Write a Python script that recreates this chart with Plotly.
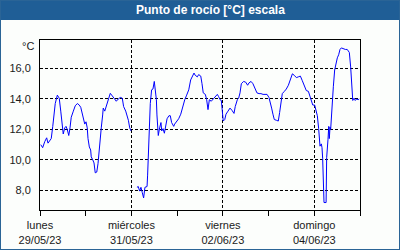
import pandas as pd
import plotly.graph_objects as go

# hours since lunes 29/05/23 00:00
hours = [0.4, 1.4, 2.5, 3.5, 4.2, 5.25, 5.9, 6.7, 7.35, 8.0, 9.1, 10.1, 10.9, 11.55, 12.2, 13.0, 13.65,
         14.3, 15.1, 15.75, 16.4, 17.5, 18.5, 19.6, 20.6, 21.4, 22.4, 23.5, 24.15, 24.8, 25.2, 25.9,
         26.6, 26.9, 27.7, 28.35, 29.0, 29.8, 30.45, 30.8, 31.5, 32.2, 32.9, 33.2, 34.0, 34.65, 35.3,
         35.9, 36.9, 37.95, 39.0, 40.05, 41.1, 42.2, 43.2, 43.9, 45.0, 45.7, 46.4, 47.1, 47.8,
         49.3,
         50.9, 51.6, 52.3, 53.0, 53.7, 54.4, 55.1, 56.2, 56.5, 56.9, 57.6, 57.9, 58.6, 59.3, 60.0,
         60.4, 61.1, 61.4, 61.8, 62.1, 62.8, 63.5, 63.9, 64.6, 65.3, 66.0, 66.7, 67.7, 68.4, 69.1,
         70.2, 70.7, 71.8, 72.8, 73.9, 74.9, 76.0, 77.0, 78.1, 79.1, 80.2, 80.85, 81.5, 82.6, 83.3,
         84.4, 85.05, 85.7, 86.8, 87.5, 88.2, 88.9, 89.9, 91.0, 92.0, 93.1, 93.8, 94.5, 95.2, 95.9,
         96.2, 97.0, 97.65, 98.7, 99.75, 100.8, 101.85, 102.5, 103.6, 104.3, 105.0, 105.7, 106.9,
         108.0, 109.0, 109.7, 110.8, 111.8, 112.9, 113.9, 115.0, 116.0, 117.1, 118.1, 119.2, 120.2,
         120.9, 121.6, 122.3, 123.0, 124.1, 125.1, 125.8, 126.5, 127.2, 128.3, 129.3, 130.4, 131.4,
         132.5, 133.5, 134.6, 135.6, 136.7, 137.7, 138.8, 139.8, 140.9, 141.75, 142.4, 143.2, 144.2,
         144.9, 145.6, 146.3, 146.6, 147.0, 147.7, 148.05, 148.4, 148.7, 149.1, 150.2, 150.5, 151.2,
         151.6, 151.9, 152.25, 152.6, 152.9, 153.7, 154.0, 154.7, 155.4, 156.1, 156.8, 157.5, 158.2,
         159.2, 160.3, 161.3, 162.4, 163.1, 163.4, 163.8, 164.2, 164.9, 165.5, 166.3, 167.0, 167.6]

dew_point = [11.0, 10.8, 11.2, 11.45, 11.1, 11.25, 11.4, 12.2, 12.9, 13.7, 14.25, 14.05, 13.2, 12.5,
             11.7, 12.1, 12.2, 12.0, 11.6, 12.1, 12.8, 13.2, 13.55, 13.7, 13.6, 13.45, 12.95, 12.35,
             12.5, 12.1, 11.4, 10.85, 10.65, 10.2, 10.0, 9.8, 9.15, 9.2, 9.75, 10.3, 11.3, 12.15, 12.95,
             13.4, 13.2, 13.5, 13.65, 14.0, 14.37, 14.2, 14.0, 13.85, 14.0, 14.1, 14.05, 13.5, 13.2,
             12.9, 12.6, 12.1, 11.9,
             None,
             8.2, 8.25, 7.95, 8.2, 7.85, 7.5, 8.2, 8.25, 9.0, 10.3, 12.15, 13.7, 14.6, 14.65, 15.15,
             14.65, 13.95, 12.95, 12.0, 11.6, 12.1, 12.45, 11.9, 12.05, 11.75, 12.15, 12.7, 12.9, 12.9,
             12.45, 12.2, 12.35, 12.5, 12.7, 13.0, 13.5, 13.95, 14.25, 14.6, 15.25, 15.5, 15.7, 15.55,
             15.45, 15.6, 15.5, 15.0, 14.4, 14.3, 13.95, 13.3, 13.95, 13.85, 14.0, 14.1, 14.3, 14.15,
             13.95, 13.9, 12.95, 12.55, 12.65, 13.0, 13.2, 13.4, 13.25, 13.05, 13.5, 13.95, 14.05, 14.4,
             15.0, 15.15, 15.1, 14.9, 15.05, 15.15, 15.0, 14.65, 14.4, 14.35, 14.35, 14.3, 14.3, 14.3,
             14.1, 13.8, 13.4, 13.0, 12.65, 12.6, 12.55, 13.1, 13.8, 14.35, 14.5, 14.65, 14.9, 15.2,
             15.65, 15.55, 15.4, 15.45, 15.5, 15.2, 14.85, 14.55, 14.5, 14.2, 13.85, 13.6, 13.6, 13.15,
             12.9, 12.05, 11.35, 10.9, 11.05, 10.8, 10.1, 8.2, 7.2, 7.2, 10.15, 11.35, 12.2, 11.4,
             12.15, 12.0, 12.75, 13.8, 14.8, 15.9, 16.4, 16.7, 16.9, 17.25, 17.35, 17.3, 17.25, 17.25,
             17.05, 16.1, 15.25, 14.4, 13.9, 14.05, 13.9, 14.0, 13.95, 14.0]

start = "2023-05-29"
end = "2023-06-05"
major_days = ["2023-05-29", "2023-05-31", "2023-06-02", "2023-06-04"]
major_labels = ["lunes<br>29/05/23", "miércoles<br>31/05/23", "viernes<br>02/06/23", "domingo<br>04/06/23"]
minor_days = ["2023-05-30", "2023-06-01", "2023-06-03", "2023-06-05"]
y_ticks = [8, 10, 12, 14, 16]
title = "Punto de rocío [°C] escala"
unit = "°C"

times = pd.Timestamp(start) + pd.to_timedelta(hours, unit="h")

fig = go.Figure()
fig.add_trace(go.Scatter(x=times, y=dew_point, mode="lines",
                         line=dict(color="#0000FF", width=1), connectgaps=False,
                         hoverinfo="skip"))

font_family = "Liberation Sans, Arial, sans-serif"
fig.update_layout(
    width=400, height=250,
    margin=dict(l=40, r=40, t=40, b=40, autoexpand=False),
    paper_bgcolor="#FCFEFC", plot_bgcolor="#FCFEFC",
    showlegend=False,
    separators=",.",
    font=dict(family=font_family, size=11, color="#1a1a1a"),
    xaxis=dict(
        type="date", range=[start, end], automargin=False,
        tickvals=major_days, ticktext=major_labels,
        ticks="outside", ticklen=5, tickcolor="black", tickwidth=1,
        showgrid=True, gridcolor="black", griddash="3px,2px", gridwidth=1,
        showline=True, linecolor="black", linewidth=1, mirror=True,
        zeroline=False,
        minor=dict(tickvals=minor_days, ticks="outside", ticklen=5, tickcolor="black", showgrid=False),
        tickfont=dict(size=11, color="#1a1a1a"),
    ),
    yaxis=dict(
        range=[6.71, 17.87], automargin=False,
        tickvals=y_ticks, tickformat=".1f",
        ticks="", showgrid=True, gridcolor="black", griddash="3px,2px", gridwidth=1,
        showline=True, linecolor="black", linewidth=1, mirror=True,
        zeroline=False, ticklabelstandoff=6,
        tickfont=dict(size=11, color="#1a1a1a"),
    ),
)

# title bar and frame
fig.add_shape(type="rect", xref="paper", yref="paper",
              x0=-0.125, x1=1.125, y0=1 + 20 / 170, y1=1 + 40 / 170,
              fillcolor="#1F5E96", line=dict(width=0), layer="below")
fig.add_shape(type="rect", xref="paper", yref="paper",
              x0=-0.125, x1=1.125, y0=-40 / 170, y1=1 + 40 / 170,
              fillcolor="rgba(0,0,0,0)", line=dict(color="#2A6496", width=2))
fig.add_annotation(text="<b>" + title + "</b>", xref="paper", yref="paper",
                   x=(210 - 40) / 320, y=1 + 30 / 170, showarrow=False,
                   font=dict(family=font_family, size=12, color="white"),
                   xanchor="center", yanchor="middle")
fig.add_annotation(text=unit, xref="paper", yref="paper",
                   x=(36 - 40) / 320, y=1 - 6 / 170, showarrow=False,
                   font=dict(family=font_family, size=11, color="#1a1a1a"),
                   xanchor="right", yanchor="middle")

fig.write_html("out.html")
